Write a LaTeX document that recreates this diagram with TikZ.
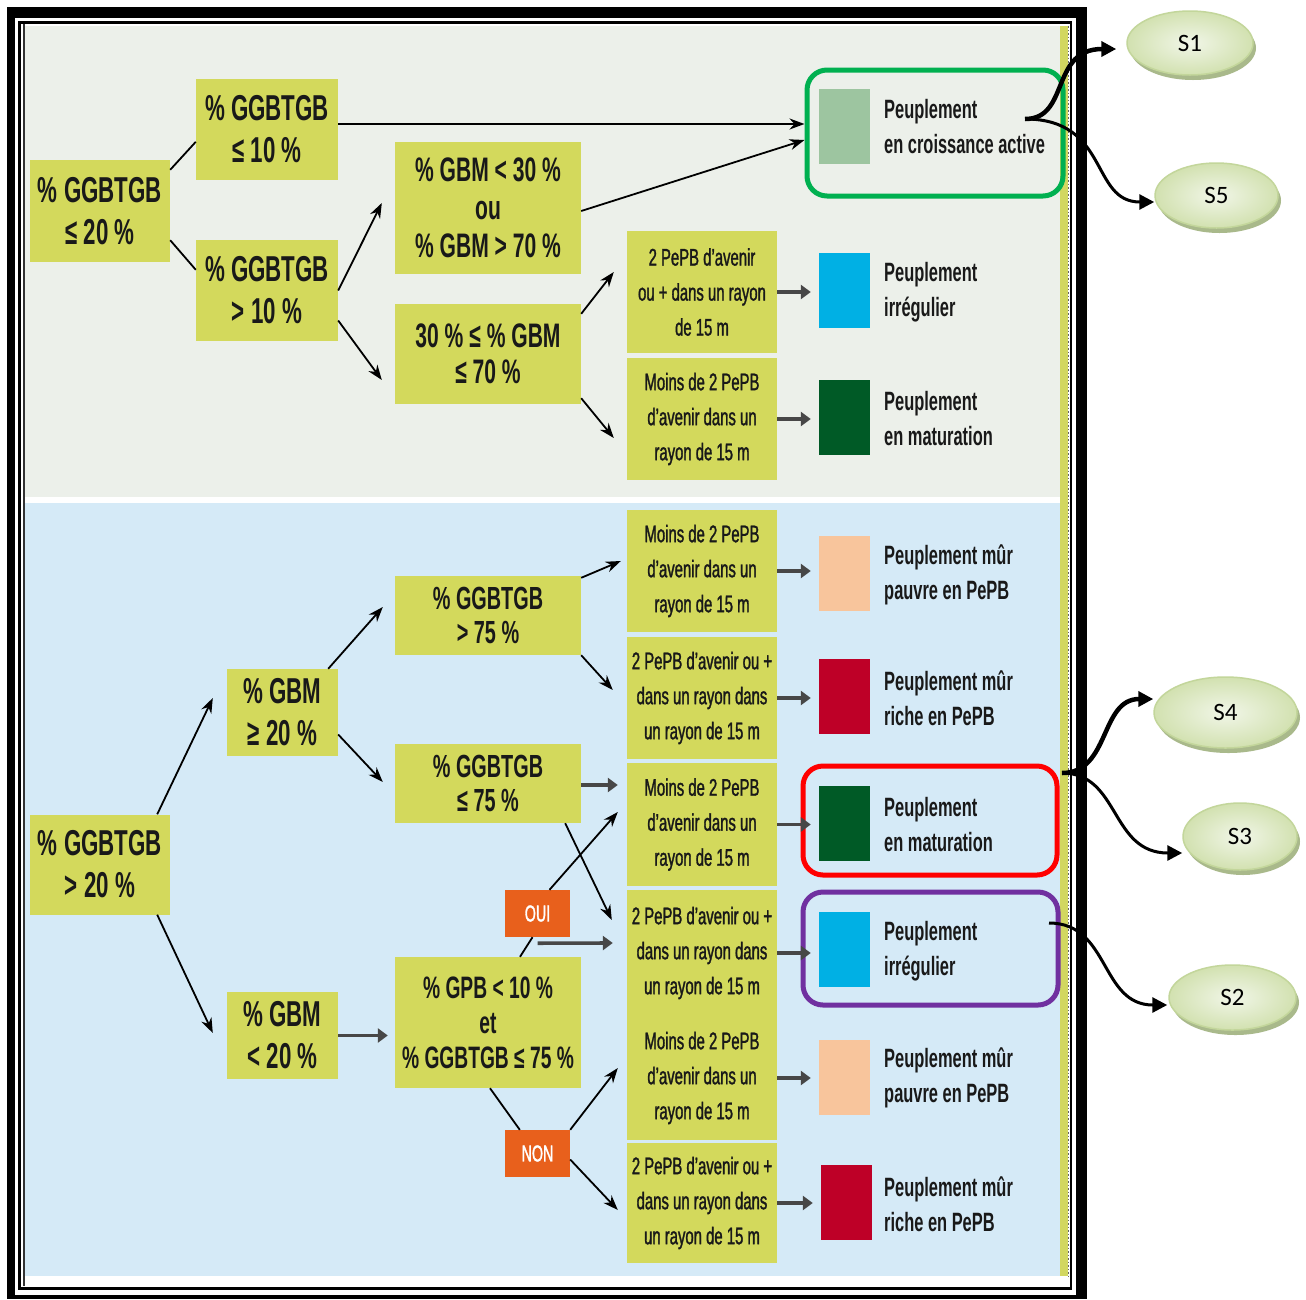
\documentclass[tikz,border=0pt]{standalone}
\usepackage{fontspec}
\setmainfont{Liberation Sans}
\newfontfamily\cond[FakeStretch=0.62]{Liberation Sans}
\newfontfamily\condm[FakeStretch=0.62,FakeBold=1.3]{Liberation Sans}
\newfontfamily\carl{Carlito}
\usetikzlibrary{shapes.geometric,arrows.meta,calc,shadows}
\definecolor{boxy}{HTML}{D3D95C}
\definecolor{topbg}{HTML}{ECF0EA}
\definecolor{botbg}{HTML}{D5EAF7}
\definecolor{strip}{HTML}{D2D760}
\definecolor{orng}{HTML}{E8601C}
\definecolor{swlg}{HTML}{9DC5A0}
\definecolor{swbl}{HTML}{00B0E4}
\definecolor{swdg}{HTML}{005A26}
\definecolor{swpe}{HTML}{F8C59C}
\definecolor{swrd}{HTML}{BE0027}
\definecolor{hlgreen}{HTML}{00B050}
\definecolor{hlred}{HTML}{FF0000}
\definecolor{hlpurple}{HTML}{7030A0}
\definecolor{ellin}{HTML}{F1F6E8}
\definecolor{ellout}{HTML}{D2E1B0}
\definecolor{elldraw}{HTML}{C3D69B}
\definecolor{ellsh}{HTML}{A9B98B}
\begin{document}
\begin{tikzpicture}[x=1pt,y=-1pt,
  cbox/.style={fill=boxy,inner sep=0pt,align=center,text=black!90},
  sz/.style 2 args={minimum width=#1,minimum height=#2},
  fA/.style={font={\cond\bfseries\fontsize{36}{42}\selectfont}},
  fD/.style={font={\cond\bfseries\fontsize{34}{38}\selectfont}},
  fE/.style={font={\cond\bfseries\fontsize{34}{36}\selectfont}},
  fK/.style={font={\cond\bfseries\fontsize{32}{34}\selectfont}},
  fM/.style={font={\cond\bfseries\fontsize{31}{35}\selectfont}},
  rbox/.style={cbox,minimum width=150pt,font={\condm\fontsize{24}{35}\selectfont}},
  sw/.style={minimum width=51pt,minimum height=75pt,inner sep=0pt},
  lbl/.style={anchor=west,align=left,inner sep=0pt,text=black!90,font={\cond\bfseries\fontsize{26.5}{35}\selectfont}},
  tag/.style={fill=orng,text=white,inner sep=0pt,minimum width=65pt,minimum height=47pt,font={\condm\fontsize{23}{24}\selectfont}},
  hl/.style={line width=5pt,rounded corners=20pt,inner sep=0pt},
  arr/.style={line width=1.8pt,-{Stealth[length=15pt,width=11pt]}},
  tarr/.style={line width=3.6pt,draw=black!72,-{Triangle[length=10pt,width=14pt]}},
  ln/.style={line width=1.8pt},
  carr/.style={line width=3pt,-{Triangle[length=15pt,width=15pt]}},
  ell/.style={ellipse,draw=elldraw,line width=1.5pt,inner color=ellin,outer color=ellout,
     drop shadow={shadow xshift=3pt,shadow yshift=-5pt,fill=ellsh,opacity=1},
     font={\carl\fontsize{25}{26}\selectfont}}
]
\useasboundingbox (0,0) rectangle (1306,1299);
\fill[white] (0,0) rectangle (1306,1299);
% frame
\fill[black] (7,7) rectangle (1087,1299);
\fill[white] (15,18) rectangle (1076,1295);
\draw[black,line width=2.5pt] (19.5,22.5) rectangle (1071,1288.5);
\draw[black!80,line width=2pt] (23.5,24) -- (23.5,1286);
% backgrounds
\fill[topbg] (25,26) rectangle (1062,497);
\fill[botbg] (25,503) rectangle (1062,1276);
\fill[strip] (1060,26) rectangle (1068,1276);
\draw[black!60,line width=1.5pt,dotted] (1068.5,26) -- (1068.5,1276);

% ---- top section nodes
\node[cbox,fA,sz={140pt}{102pt}] (A) at (100,211) {\% GGBTGB\\≤ 20 \%};
\node[cbox,fA,sz={142pt}{101pt}] (B) at (267,129.5) {\% GGBTGB\\≤ 10 \%};
\node[cbox,fA,sz={142pt}{101pt}] (C) at (267,290.5) {\% GGBTGB\\> 10 \%};
\node[cbox,fD,sz={186pt}{132pt}] (D) at (488,208) {\% GBM < 30 \%\\ou\\\% GBM > 70 \%};
\node[cbox,fE,sz={186pt}{100pt}] (E) at (488,354) {30 \% ≤ \% GBM\\≤ 70 \%};
\node[rbox,minimum height=122pt] (F) at (702,292) {2 PePB d’avenir\\ou + dans un rayon\\de 15 m};
\node[rbox,minimum height=122pt] (G) at (702,419) {Moins de 2 PePB\\d’avenir dans un\\rayon de 15 m};
\node[sw,fill=swlg] (SW1) at (844.5,126) {};
\node[sw,fill=swbl] (SW2) at (844.5,290.5) {};
\node[sw,fill=swdg] (SW3) at (844.5,417.5) {};
\node[lbl] (L1) at (884,127) {Peuplement\\en croissance active};
\node[lbl] (L2) at (884,292) {Peuplement\\irrégulier};
\node[lbl] (L3) at (884,419) {Peuplement\\en maturation};

% ---- bottom section nodes
\node[cbox,fA,sz={140pt}{100pt}] (H) at (100,864.5) {\% GGBTGB\\> 20 \%};
\node[cbox,fA,sz={111pt}{87pt}] (I) at (282.5,712.5) {\% GBM\\≥ 20 \%};
\node[cbox,fA,sz={111pt}{87pt}] (J) at (282.5,1035.5) {\% GBM\\< 20 \%};
\node[cbox,fK,sz={186pt}{79pt}] (K) at (488,615.5) {\% GGBTGB\\> 75 \%};
\node[cbox,fK,sz={186pt}{79pt}] (L) at (488,783.5) {\% GGBTGB\\≤ 75 \%};
\node[cbox,fM,sz={186pt}{131pt}] (M) at (488,1022.5) {\% GPB < 10 \%\\et\\\% GGBTGB ≤ 75 \%};
\node[tag] (OUI) at (537.5,913.5) {OUI};
\node[tag] (NON) at (537.5,1153.5) {NON};
\node[rbox,minimum height=122pt] (R1) at (702,571) {Moins de 2 PePB\\d’avenir dans un\\rayon de 15 m};
\node[rbox,minimum height=122pt] (R2) at (702,698) {2 PePB d’avenir ou +\\dans un rayon dans\\un rayon de 15 m};
\node[rbox,minimum height=123pt] (R3) at (702,824.5) {Moins de 2 PePB\\d’avenir dans un\\rayon de 15 m};
\node[rbox,minimum height=126pt] (R4) at (702,953) {2 PePB d’avenir ou +\\dans un rayon dans\\un rayon de 15 m};
\node[rbox,minimum height=124pt] (R5) at (702,1078) {Moins de 2 PePB\\d’avenir dans un\\rayon de 15 m};
\node[rbox,minimum height=120pt] (R6) at (702,1203) {2 PePB d’avenir ou +\\dans un rayon dans\\un rayon de 15 m};
\node[sw,fill=swpe] (P1) at (844.5,573) {};
\node[sw,fill=swrd] (Q1) at (844.5,696.5) {};
\node[sw,fill=swdg] (Q2) at (844.5,823.5) {};
\node[sw,fill=swbl] (Q3) at (844.5,949.5) {};
\node[sw,fill=swpe] (P2) at (844.5,1077) {};
\node[sw,fill=swrd] (Q4) at (846.5,1202.5) {};
\node[lbl] (L4) at (884,575) {Peuplement mûr\\pauvre en PePB};
\node[lbl] (L5) at (884,698) {Peuplement mûr\\riche en PePB};
\node[lbl] (L6) at (884,825) {Peuplement\\en maturation};
\node[lbl] (L7) at (884,951) {Peuplement\\irrégulier};
\node[lbl] (L8) at (884,1078) {Peuplement mûr\\pauvre en PePB};
\node[lbl] (L9) at (884,1204) {Peuplement mûr\\riche en PePB};

% highlight frames
\node[hl,draw=hlgreen,minimum width=256pt,minimum height=126pt] (GB) at (935,133) {};
\node[hl,draw=hlred,minimum width=254pt,minimum height=109pt] (RB) at (930,820.5) {};
\node[hl,draw=hlpurple,minimum width=255pt,minimum height=113pt] (PB) at (930.5,948.5) {};

% ---- top connectors
\draw[ln] ($(A.north east)+(0,10)$) -- ($(B.north west)+(0,63)$);
\draw[ln] ($(A.south east)+(0,-22)$) -- ($(C.north west)+(0,30)$);
\draw[arr] ($(B.east)+(0,-5.5)$) -- ($(GB.west)+(0,-9)$);
\draw[arr] ($(D.east)+(0,3)$) -- ($(GB.west)+(0,7)$);
\draw[arr] (C.east) -- ($(D.west)+(-13,-5)$);
\draw[arr] ($(C.east)+(0,30)$) -- ($(E.west)+(-13,26)$);
\draw[arr] ($(E.north east)+(0,10)$) -- ($(F.west)+(-13,-20)$);
\draw[arr] ($(E.south east)+(0,-6)$) -- ($(G.west)+(-13,19)$);
\draw[tarr] (F.east) -- ($(F.east -| SW2.west)+(-8,0)$);
\draw[tarr] (G.east) -- ($(G.east -| SW3.west)+(-8,0)$);

% ---- bottom connectors
\draw[arr] ($(H.north east)+(-13,0)$) -- ($(I.west)+(-14,-14.5)$);
\draw[arr] ($(H.south east)+(-13,0)$) -- ($(J.west)+(-14,-2.5)$);
\draw[arr] ($(I.north east)+(-10,0)$) -- ($(K.west)+(-12,-8.5)$);
\draw[arr] ($(I.east)+(0,22)$) -- ($(L.west)+(-12,-1.5)$);
\draw[arr] ($(K.north east)+(0,2)$) -- ($(R1.west)+(-6,-10)$);
\draw[arr] (K.south east) -- ($(R2.west)+(-14,-8)$);
\coordinate (lr3) at ($(L.east)+(0,1.5)$);
\draw[tarr] (lr3) -- ($(lr3 -| R3.west)+(-9,0)$);
\draw[arr] ($(L.south east)+(-16,0)$) -- ($(R4.west)+(-15,-33)$);
\draw[ln] ($(M.north)+(32,0)$) -- ($(OUI.south)+(-5,0)$);
\draw[arr] ($(OUI.north)+(12,0)$) -- ($(R3.west)+(-9,-12.5)$);
\draw[tarr] ($(OUI.south)+(0,6)$) -- ($(R4.west)+(-14,-10)$);
\draw[ln] ($(M.south)+(2,0)$) -- ($(NON.north west)+(15,0)$);
\draw[arr] (NON.north east) -- ($(R5.west)+(-9,-10)$);
\draw[arr] ($(NON.east)+(0,6)$) -- ($(R6.west)+(-9,7)$);
\draw[tarr] (J.east) -- ($(J.east -| M.west)+(-7,0)$);
\draw[tarr] (R1.east) -- ($(R1.east -| P1.west)+(-8,0)$);
\draw[tarr] (R2.east) -- ($(R2.east -| Q1.west)+(-8,0)$);
\draw[tarr] (R3.east) -- ($(R3.east -| Q2.west)+(-8,0)$);
\draw[tarr] (R4.east) -- ($(R4.east -| Q3.west)+(-8,0)$);
\draw[tarr] (R5.east) -- ($(R5.east -| P2.west)+(-8,0)$);
\draw[tarr] (R6.east) -- ($(R6.east -| Q4.west)+(-8,0)$);

% ---- ellipses
\node[ell,minimum width=126pt,minimum height=64pt] (S1) at (1190,43) {S1};
\node[ell,minimum width=123pt,minimum height=65pt] (S5) at (1216.5,195.5) {S5};
\node[ell,minimum width=143pt,minimum height=71pt] (S4) at (1225.5,712.5) {S4};
\node[ell,minimum width=114pt,minimum height=67pt] (S3) at (1240,836.5) {S3};
\node[ell,minimum width=127pt,minimum height=65pt] (S2) at (1232.5,997.5) {S2};

\coordinate (c1) at (1025,119);
\coordinate (c2) at (1062,773);
\coordinate (c3) at (1049,923);
\draw[carr,line width=4.5pt] (c1) .. controls (1070,119) and (1050,49) .. ($(S1.west)+(-10,6)$);
\draw[carr] (c1) .. controls (1110,119) and (1090,202) .. ($(S5.west)+(0,6.5)$);
\draw[carr,line width=4.5pt] (c2) .. controls (1110,773) and (1100,699) .. ($(S4.west)+(0,-13.5)$);
\draw[carr] (c2) .. controls (1120,773) and (1110,853) .. ($(S3.west)+(0,16.5)$);
\draw[carr] (c3) .. controls (1110,923) and (1100,1005) .. ($(S2.west)+(-1,7.5)$);
\end{tikzpicture}
\end{document}
